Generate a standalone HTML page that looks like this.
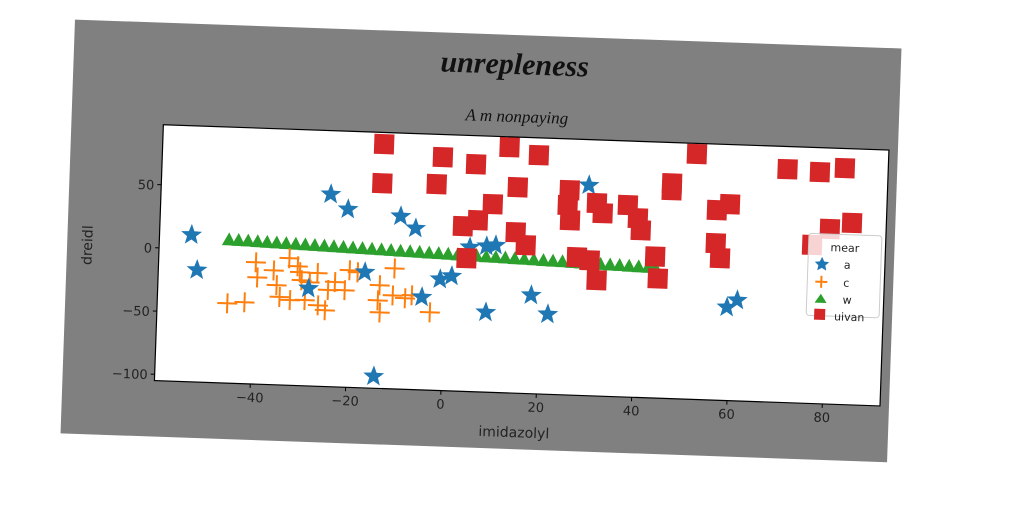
<!DOCTYPE html>
<html><head><meta charset="utf-8"><style>
html,body{margin:0;padding:0;background:#fff;}
svg{display:block;}
text{font-family:"DejaVu Sans","Liberation Sans",sans-serif;}
</style></head><body>
<svg id="chart" width="1024" height="512" viewBox="0 0 1024 512" xmlns="http://www.w3.org/2000/svg">
<g id="fig" transform="rotate(2 512 256)">
<rect x="67" y="35" width="827" height="414" fill="#808080"/>
<rect x="159" y="137" width="726" height="256" fill="#fff"/>
<text x="508" y="74" text-anchor="middle" style="font-family:'Liberation Serif',serif;font-style:italic;font-weight:bold;font-size:30px" fill="#111">unrepleness</text>
<text x="512" y="122" text-anchor="middle" style="font-family:'Liberation Serif',serif;font-style:italic;font-size:17px" fill="#111">A m nonpaying</text>
<g id="marks"></g>
<rect x="159" y="137" width="726" height="256" fill="none" stroke="#000" stroke-width="1.2"/>
<g id="axes"></g>
<text x="520" y="437" text-anchor="middle" font-size="14" fill="#222">imidazolyl</text>
<text transform="translate(92 260) rotate(-90)" text-anchor="middle" font-size="14" fill="#222">dreidl</text>
<g id="legend">
<rect x="808" y="223" width="73" height="82" rx="3" fill="#fff" fill-opacity="0.8" stroke="#ccc"/>
<text x="830" y="240" font-size="11" fill="#222">mear</text>
<g><path d="M822,246 l2.2,4.6 5,.6 -3.7,3.4 1,5 -4.5,-2.5 -4.5,2.5 1,-5 -3.7,-3.4 5,-.6z" fill="#1f77b4"/><text x="844" y="257" font-size="11" fill="#222">a</text></g>
<g><path d="M816,271h12M822,265v12" stroke="#ff7f0e" stroke-width="2"/><text x="844" y="275" font-size="11" fill="#222">c</text></g>
<g><path d="M822,283l6,9h-12z" fill="#2ca02c"/><text x="844" y="292" font-size="11" fill="#222">w</text></g>
<g><rect x="816" y="298" width="11" height="11" fill="#d62728"/><text x="836" y="309" font-size="11" fill="#222">uivan</text></g>
</g>
</g>
</svg>
<script>
const xTicks=[-40,-20,0,20,40,60,80];
const yTicks=[50,0,-50,-100];
const starX=[-53.4,-52,-24.5,-20.8,-9.7,-6.5,-28.5,-16.8,-4.7,-1,1.4,5,8.5,10.4,18.2,8.8,21.8,29.5,-14.2,59.3,61.4];
const starY=[11.2,-16.4,47.2,35.8,31.7,22.6,-27.9,-13.5,-31.7,-17,-14.2,9.1,10.4,11.4,-27.1,-41.9,-41.7,61.4,-95.6,-31.3,-25.4];
const crossX=[-45.4,-41.8,-39.7,-39.3,-35.9,-35.2,-32.7,-30.9,-30.4,-34.5,-32.3,-29.2,-26.4,-24.9,-30,-28.3,-26.7,-24.4,-23,-20.9,-20,-18.3,-13.6,-13.9,-10.6,-10.8,-8.2,-6.8,-2.9,-13.4];
const crossY=[-41.9,-40.6,-8.7,-20.6,-14.6,-26.2,-4.5,-10.7,-15.3,-35.4,-37.6,-37.2,-41,-44.7,-21.6,-23,-15.5,-28.6,-22.1,-28.3,-12.4,-13.8,-23.4,-35.4,-9.7,-31.1,-33,-30.5,-43.4,-44.9];
const triX=[-45.5,-43.5,-41.5,-39.5,-37.5,-35.5,-33.5,-31.5,-29.5,-27.5,-25.5,-23.5,-21.5,-19.5,-17.5,-15.5,-13.5,-11.5,-9.5,-7.5,-5.5,-3.5,-1.5,0.5,2.5,4.5,6.5,8.5,10.5,12.5,14.5,16.5,18.5,20.5,22.5,24.5,26.5,28.5,30.5,32.5,34.5,36.5,38.5,40.5,42.5,44];
const triY=[7.9,7.7,7.5,7.2,7.0,6.8,6.5,6.3,6.1,5.8,5.6,5.4,5.1,4.9,4.7,4.4,4.2,4.0,3.7,3.5,3.3,3.0,2.8,2.6,2.3,2.1,1.9,1.6,1.4,1.2,0.9,0.7,0.5,0.2,0.0,-0.2,-0.5,-0.7,-0.9,-1.2,-1.4,-1.6,-1.9,-2.1,-2.3,-2.4];
const sqX=[-13.7,-13.8,-1.3,-2.4,5.7,12.6,18.8,14.6,9.5,6.5,3.4,14.5,16.7,4.4,25.5,25.2,25.8,31.3,32.6,37.8,40,40.7,27.5,30.2,31.8,43.9,44.6,46.9,46.9,51.9,56.5,59.2,56.5,57.5,71,77.8,83,80.3,84.9,76.7];
const sqY=[88.3,57.3,79.6,58.1,74.9,89.3,83.8,57.9,43.8,30.7,25.6,22.2,12.3,0.4,57,45.1,33.2,47.5,39.7,46.8,36.7,27.3,4.2,2.1,-13.4,6.9,-10.4,65.2,59.8,89.1,45.3,50.3,19.1,7.4,79.6,78.2,82,33.5,38.9,20.4];

const X0=159,X1=885,Y0=137,Y1=393,XMIN=-60.1,XMAX=92.1,YMIN=-105,YMAX=97.5;
function sx(v){return X0+(v-XMIN)/(XMAX-XMIN)*(X1-X0);}
function sy(v){return Y1-(v-YMIN)/(YMAX-YMIN)*(Y1-Y0);}
const NS='http://www.w3.org/2000/svg';
const marks=document.getElementById('marks'),axes=document.getElementById('axes');
function mk(tag,attrs,parent){const e=document.createElementNS(NS,tag);for(const k in attrs)e.setAttribute(k,attrs[k]);parent.appendChild(e);return e;}
function starPath(cx,cy,R){let d='';for(let i=0;i<10;i++){const r=i%2?R*0.42:R;const a=-Math.PI/2+i*Math.PI/5;d+=(i?'L':'M')+(cx+r*Math.cos(a)).toFixed(1)+','+(cy+r*Math.sin(a)).toFixed(1);}return d+'Z';}
xTicks.forEach(t=>{const x=sx(t);
const l=mk('line',{x1:x,y1:Y1,x2:x,y2:Y1+4,stroke:'#000'},axes);


const tx=mk('text',{x:x,y:Y1+18,'text-anchor':'middle','font-size':'13',fill:'#222'},axes);tx.textContent=t<0?'\u2212'+(-t):t;

});
yTicks.forEach(t=>{const y=sy(t);
const l=mk('line',{x1:X0-4,y1:y,x2:X0,y2:y,stroke:'#000'},axes);


const tx=mk('text',{x:X0-7,y:y+5,'text-anchor':'end','font-size':'13',fill:'#222'},axes);tx.textContent=t<0?'\u2212'+(-t):t;

});
triX.forEach((v,i)=>{const x=sx(v),y=sy(triY[i]);
const p=mk('path',{d:`M${x},${y-8}L${x+7},${y+5}L${x-7},${y+5}Z`,fill:'#2ca02c'},marks);

});
crossX.forEach((v,i)=>{const x=sx(v),y=sy(crossY[i]);
const p=mk('path',{d:`M${x-10},${y}H${x+10}M${x},${y-10}V${y+10}`,stroke:'#ff7f0e','stroke-width':2},marks);

});
starX.forEach((v,i)=>{const p=mk('path',{d:starPath(sx(v),sy(starY[i]),11),fill:'#1f77b4'},marks);

});
sqX.forEach((v,i)=>{const x=sx(v),y=sy(sqY[i]);
const r=mk('rect',{x:x-10,y:y-10,width:20,height:20,fill:'#d62728'},marks);

});
</script>
</body></html>
